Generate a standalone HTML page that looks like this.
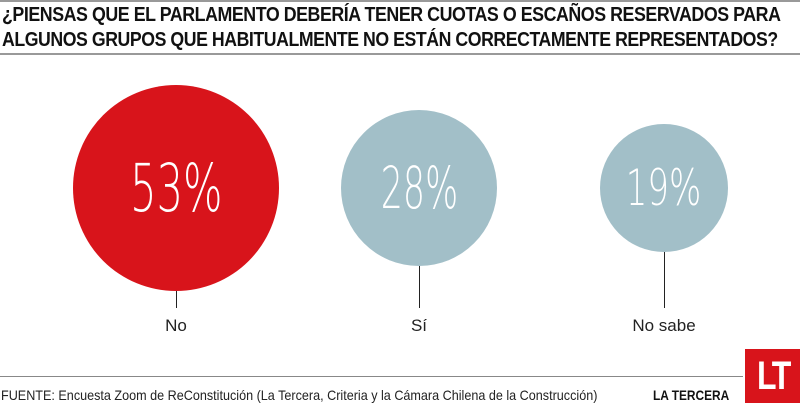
<!DOCTYPE html><html><head><style>
body{margin:0;width:800px;height:403px;background:#fff;position:relative;overflow:hidden;font-family:"Liberation Sans",sans-serif}
.t{position:absolute;left:2px;font-weight:bold;font-size:20px;color:#111;white-space:nowrap;transform-origin:0 0;letter-spacing:-0.5px}
.c{position:absolute;border-radius:50%;display:flex;align-items:center;justify-content:center;color:#fff;font-weight:300}
.n{display:inline-block;font-family:"DejaVu Sans",sans-serif;font-weight:200}
.l{position:absolute;width:1px;background:#222}
.lb{position:absolute;top:316px;font-size:17px;color:#222;transform:translateX(-50%)}
</style></head><body>
<div style="position:absolute;left:0;top:0;width:800px;height:2px;background:#999"></div>
<div class="t" style="top:4px;transform:scaleX(0.89)">¿PIENSAS QUE EL PARLAMENTO DEBERÍA TENER CUOTAS O ESCAÑOS RESERVADOS PARA</div>
<div class="t" style="top:29px;transform:scaleX(0.885)">ALGUNOS GRUPOS QUE HABITUALMENTE NO ESTÁN CORRECTAMENTE REPRESENTADOS?</div>
<div style="position:absolute;left:0;top:53px;width:800px;height:2px;background:#999"></div>
<div class="c" style="left:73px;top:85px;width:206px;height:206px;background:#d8141b;font-size:66px"><span class="n" style="transform:scaleX(0.63)">53%</span></div>
<div class="c" style="left:341px;top:110px;width:156px;height:156px;background:#a2bfc8;font-size:58px"><span class="n" style="transform:scaleX(0.6)">28%</span></div>
<div class="c" style="left:600px;top:124px;width:128px;height:128px;background:#a2bfc8;font-size:50px"><span class="n" style="transform:scaleX(0.68)">19%</span></div>
<div class="l" style="left:176px;top:291px;height:17px"></div>
<div class="l" style="left:419px;top:266px;height:42px"></div>
<div class="l" style="left:664px;top:252px;height:56px"></div>
<div class="lb" style="left:176px">No</div>
<div class="lb" style="left:419px">Sí</div>
<div class="lb" style="left:664px">No sabe</div>
<div style="position:absolute;left:0;top:376px;width:743px;height:1px;background:#888"></div>
<div style="position:absolute;left:1px;top:387px;font-size:14px;color:#222;white-space:nowrap;transform:scaleX(0.9);transform-origin:0 0">FUENTE: Encuesta Zoom de ReConstitución (La Tercera, Criteria y la Cámara Chilena de la Construcción)</div>
<div style="position:absolute;left:653px;top:387px;font-size:14px;font-weight:bold;color:#111;white-space:nowrap;transform:scaleX(0.85);transform-origin:0 0">LA TERCERA</div>
<div style="position:absolute;left:745px;top:349px;width:55px;height:54px;background:#d8141b;color:#fff;font-weight:bold;font-size:40px;line-height:54px;text-align:center;letter-spacing:-3px"><span style="display:inline-block;transform:scaleX(0.8)">LT</span></div>
</body></html>
